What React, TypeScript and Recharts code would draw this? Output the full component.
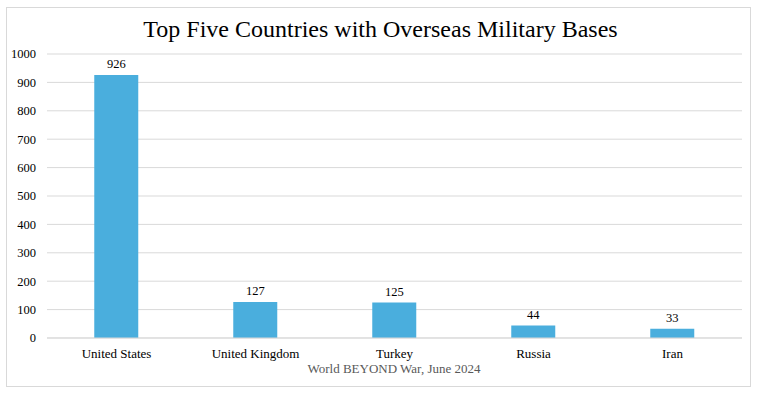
import { Bar, BarChart, CartesianGrid, LabelList, XAxis, YAxis } from "recharts";

const countries = ["United States", "United Kingdom", "Turkey", "Russia", "Iran"];
const bases = [926, 127, 125, 44, 33];
const yTicks = [0, 100, 200, 300, 400, 500, 600, 700, 800, 900, 1000];

const data = countries.map((name, i) => ({ name, bases: bases[i] }));

const font = "'Liberation Serif', 'Times New Roman', serif";

const renderXTick = (props: any) => {
  const { x, y, payload } = props;
  return (
    <text
      key={`x-${payload.value}`}
      x={x}
      y={y}
      dy="0.71em"
      textAnchor="middle"
      fill="#000"
      style={{ fontFamily: font, fontSize: 13 }}
    >
      {payload.value}
    </text>
  );
};

const renderYTick = (props: any) => {
  const { x, y, payload } = props;
  return (
    <text
      key={`y-${payload.value}`}
      x={x}
      y={y}
      dy="0.355em"
      textAnchor="end"
      fill="#000"
      style={{ fontFamily: font, fontSize: 12.5 }}
    >
      {payload.value}
    </text>
  );
};

export default function App() {
  return (
    <div
      style={{
        position: "absolute",
        left: 0,
        top: 0,
        width: 761,
        height: 397,
        background: "#fff",
        fontFamily: font,
      }}
    >
      <div
        style={{
          position: "absolute",
          left: 6,
          top: 7,
          width: 745,
          height: 380,
          border: "1px solid #d9d9d9",
          boxSizing: "border-box",
        }}
      />
      <div
        style={{
          position: "absolute",
          left: 0,
          width: 761,
          top: 16,
          textAlign: "center",
          fontSize: 24,
          color: "#000",
        }}
      >
        Top Five Countries with Overseas Military Bases
      </div>
      <div style={{ position: "absolute", left: 0, top: 0 }}>
        <BarChart
          width={761}
          height={397}
          data={data}
          margin={{ top: 54, right: 19, left: 7, bottom: 29 }}
          barCategoryGap="34%"
        >
          <CartesianGrid vertical={false} stroke="#d9d9d9" />
          <XAxis
            dataKey="name"
            axisLine={{ stroke: "#d9d9d9" }}
            tickLine={false}
            tickSize={0}
            tickMargin={11}
            height={30}
            tick={renderXTick}
          />
          <YAxis
            domain={[0, 1000]}
            ticks={yTicks}
            axisLine={false}
            tickLine={false}
            tickSize={0}
            tickMargin={11}
            width={40}
            tick={renderYTick}
          />
          <Bar dataKey="bases" fill="#4aaedd" isAnimationActive={false}>
            <LabelList
              dataKey="bases"
              position="top"
              offset={7}
              fill="#000"
              fontSize={12.5}
              fontFamily={font}
            />
          </Bar>
        </BarChart>
      </div>
      <div
        style={{
          position: "absolute",
          left: 0,
          width: 788,
          top: 361,
          textAlign: "center",
          fontSize: 13,
          color: "#595959",
        }}
      >
        World BEYOND War, June 2024
      </div>
    </div>
  );
}
